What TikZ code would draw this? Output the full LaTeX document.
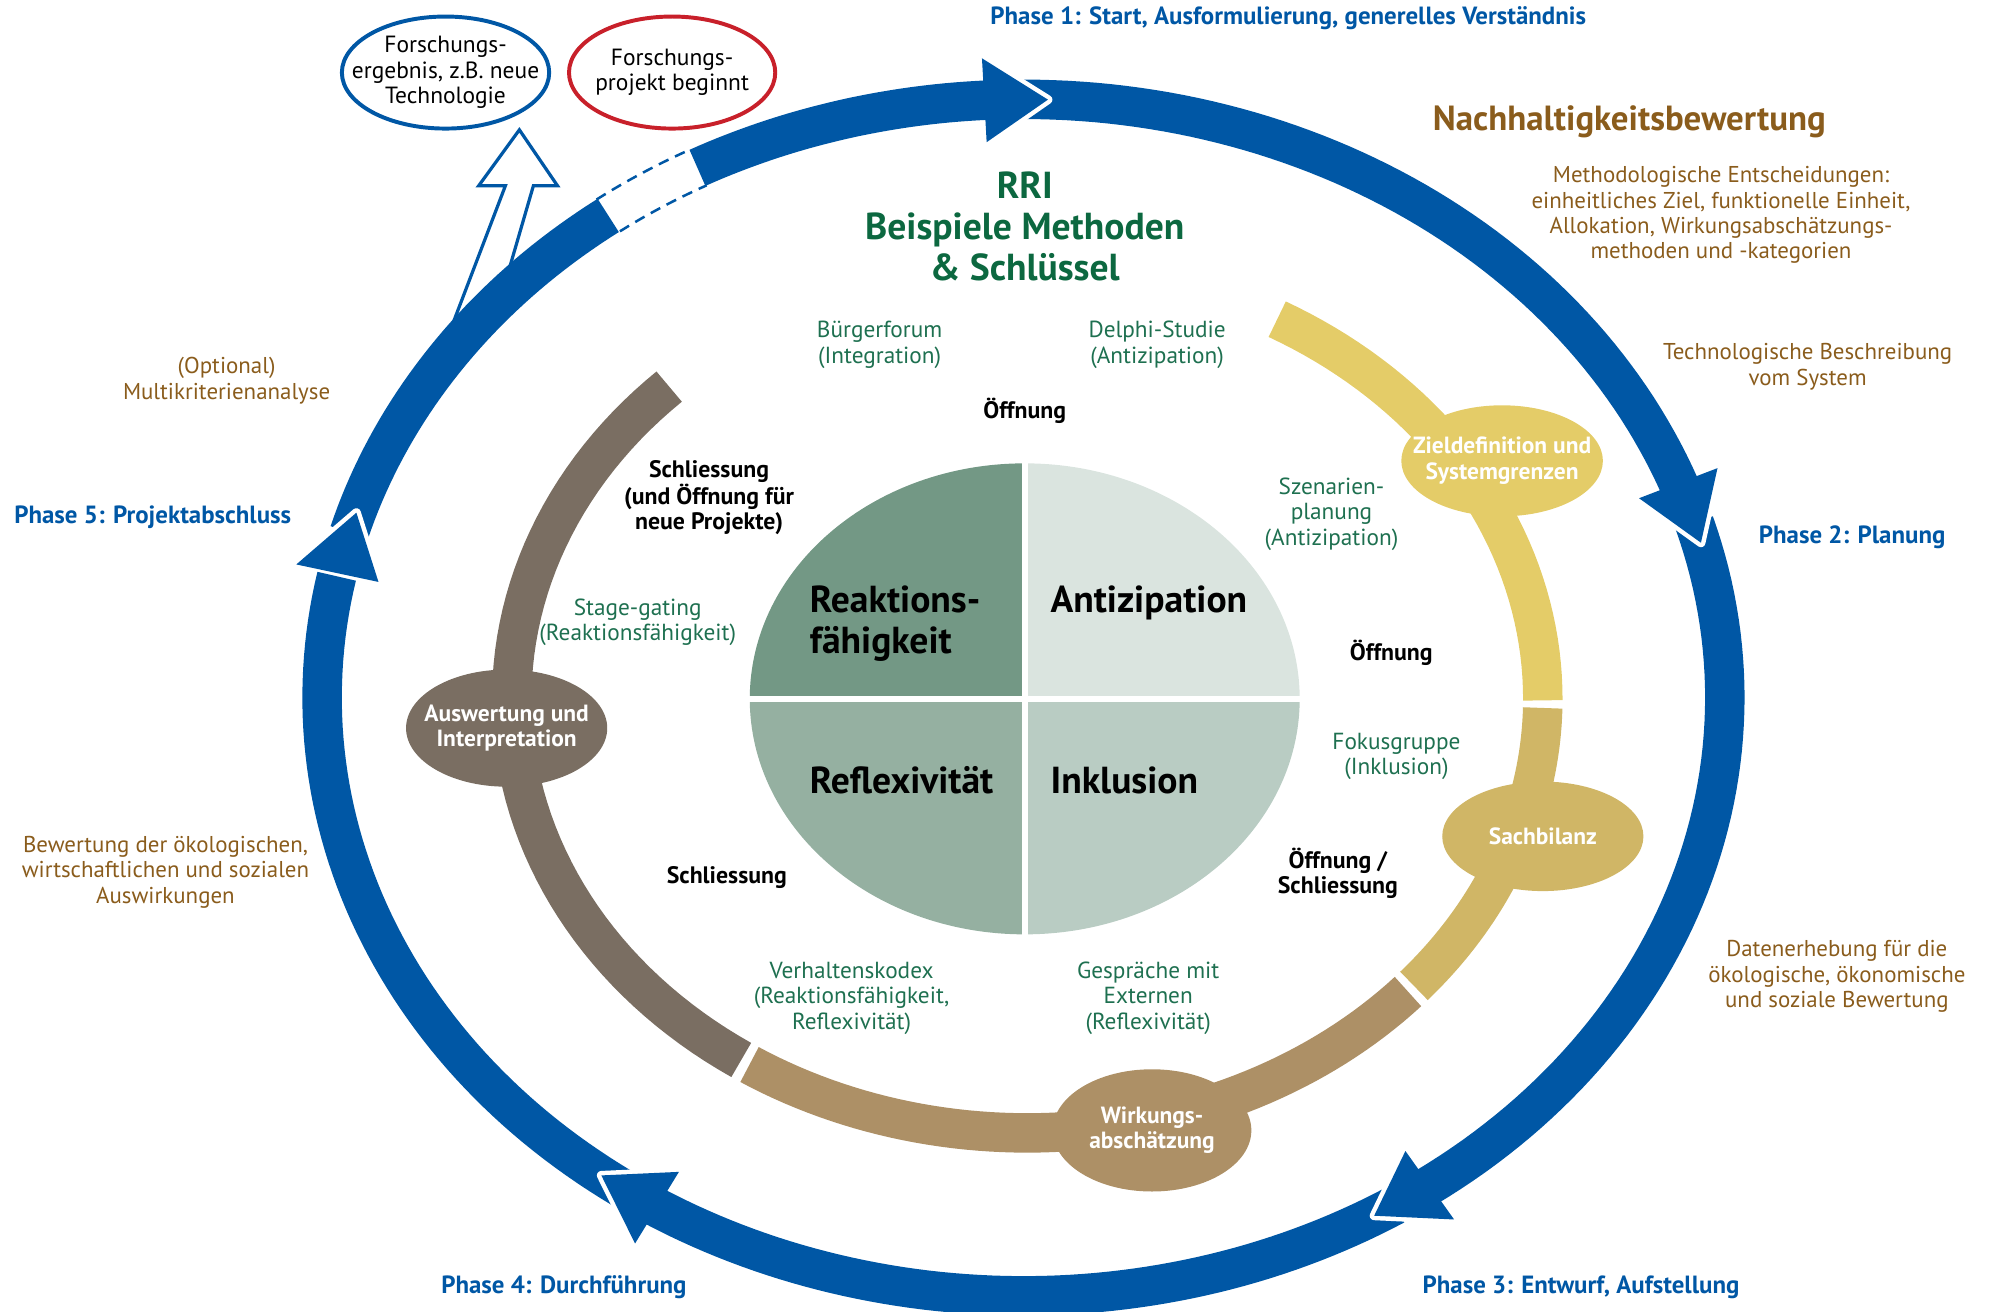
\documentclass[tikz,border=0pt]{standalone}
\usepackage{fontspec}
\setmainfont{PT Sans}
\usetikzlibrary{shapes.geometric}
\definecolor{ringblue}{RGB}{0,87,165}
\definecolor{startred}{RGB}{200,32,42}
\definecolor{ringgray}{RGB}{122,110,98}
\definecolor{ringtan}{RGB}{173,144,102}
\definecolor{ringgold}{RGB}{208,182,102}
\definecolor{ringyellow}{RGB}{228,204,104}
\definecolor{rrigreen}{RGB}{12,104,64}
\definecolor{methgreen}{RGB}{30,112,80}
\definecolor{notebrown}{RGB}{138,92,28}
\definecolor{quadA}{RGB}{115,152,133}
\definecolor{quadB}{RGB}{218,228,223}
\definecolor{quadC}{RGB}{149,176,161}
\definecolor{quadD}{RGB}{185,204,195}
\begin{document}
\begin{tikzpicture}[x=0.025cm,y=-0.025cm]
  \tikzstyle{band}=[line width=0.775cm]
  \tikzstyle{phase}=[font=\bfseries\fontsize{13.9}{16}\selectfont,text=ringblue]
  \tikzstyle{note}=[font=\fontsize{12.8}{14.2}\selectfont,text=notebrown,align=center]
  \tikzstyle{method}=[font=\fontsize{13}{14.2}\selectfont,text=methgreen,align=center]
  \tikzstyle{switch}=[font=\bfseries\fontsize{13.3}{14.2}\selectfont,align=center]
  \tikzstyle{quadrant}=[font=\bfseries\fontsize{21}{22.7}\selectfont,anchor=west,align=left,inner sep=0pt]
  \tikzstyle{stage}=[ellipse,inner xsep=-0.35cm,inner ysep=0pt,text=white,align=center,font=\bfseries\fontsize{13.1}{14.2}\selectfont]
  \tikzstyle{origin}=[ellipse,draw,line width=2.2pt,fill=white,inner xsep=-0.4cm,inner ysep=0pt,minimum width=4.05cm,minimum height=2.2cm,align=center,font=\fontsize{13.1}{14.2}\selectfont]
  \useasboundingbox (0,0) rectangle (1568,1030);

  % result arrow out of the cycle
  \filldraw[fill=white,draw=ringblue,line width=1.8pt] (344,285) -- (397,146) -- (376,146) -- (408,102) -- (438,146) -- (419,146) -- (394,232) -- cycle;

  % outer cycle
  \draw[band,ringblue] plot[domain=164:126.3,samples=40] ({804+551*cos(\x)},{548-470*sin(\x)});
  \draw[band,ringblue] plot[domain=117.7:92.9,samples=30] ({804+551*cos(\x)},{548-470*sin(\x)});
  \draw[band,ringblue] plot[domain=90:20.7,samples=60] ({804+551*cos(\x)},{548-470*sin(\x)});
  \draw[band,ringblue] plot[domain=17:-54.9,samples=60] ({804+551*cos(\x)},{548-470*sin(\x)});
  \draw[band,ringblue] plot[domain=-58:-121.8,samples=60] ({804+551*cos(\x)},{548-470*sin(\x)});
  \draw[band,ringblue] plot[domain=-125:-191.7,samples=60] ({804+551*cos(\x)},{548-470*sin(\x)});
  \foreach \t/\l in {88/5.2,15/6.0,-60/5.4,-127/5.5,162/6.0} {
    \draw[white,line width=5pt,line join=round] ({804+584*cos(\t+\l)},{548-503*sin(\t+\l)}) -- ({804+551*cos(\t)},{548-470*sin(\t)}) -- ({804+518*cos(\t+\l)},{548-437*sin(\t+\l)});
    \fill[ringblue] ({804+584*cos(\t+\l)},{548-503*sin(\t+\l)}) -- ({804+551*cos(\t)},{548-470*sin(\t)}) -- ({804+518*cos(\t+\l)},{548-437*sin(\t+\l)}) -- cycle;
  }
  \draw[ringblue,line width=1.4pt,dash pattern=on 6pt off 4pt] plot[domain=126.3:117.7,samples=12] ({804+566.5*cos(\x)},{548-485.5*sin(\x)});
  \draw[ringblue,line width=1.4pt,dash pattern=on 6pt off 4pt] plot[domain=126.3:117.7,samples=12] ({804+535.5*cos(\x)},{548-454.5*sin(\x)});

  % inner cycle
  \draw[band,ringgray] plot[domain=134:236.3,samples=60] ({807+405*cos(\x)},{549-341*sin(\x)});
  \draw[band,ringtan] plot[domain=237.4:317.6,samples=60] ({807+405*cos(\x)},{549-341*sin(\x)});
  \draw[band,ringgold] plot[domain=318.6:358.8,samples=40] ({807+405*cos(\x)},{549-341*sin(\x)});
  \draw[band,ringyellow] plot[domain=359.8:421,samples=40] ({807+405*cos(\x)},{549-341*sin(\x)});

  \node[stage,fill=ringyellow,minimum width=3.95cm,minimum height=2.18cm] (ziel) at (1180,362) {Zieldefinition und\\Systemgrenzen};
  \node[stage,fill=ringgold,minimum width=3.95cm,minimum height=2.15cm] (sach) at (1212,657) {Sachbilanz};
  \node[stage,fill=ringtan,minimum width=3.9cm,minimum height=2.4cm] (wirk) at (905,888) {Wirkungs-\\abschätzung};
  \node[stage,fill=ringgray,minimum width=3.95cm,minimum height=2.3cm] (ausw) at (398,572) {Auswertung und\\Interpretation};

  % RRI keys
  \fill[quadA] (805,549) -- (589,549) arc[start angle=180,end angle=270,x radius=216,y radius=185] -- cycle;
  \fill[quadB] (805,549) -- (805,364) arc[start angle=270,end angle=360,x radius=216,y radius=185] -- cycle;
  \fill[quadD] (805,549) -- (1021,549) arc[start angle=0,end angle=90,x radius=216,y radius=185] -- cycle;
  \fill[quadC] (805,549) -- (805,734) arc[start angle=90,end angle=180,x radius=216,y radius=185] -- cycle;
  \draw[white,line width=3.5pt] (580,549) -- (1030,549) (805,355) -- (805,745);
  \node[quadrant] (reakt) at (636,490) {Reaktions-\\fähigkeit};
  \node[quadrant] (antiz) at (825,474) {Antizipation};
  \node[quadrant] (reflex) at (636,613) {Reflexivität};
  \node[quadrant] (inkl) at (825,613) {Inklusion};

  \node[font=\bfseries\fontsize{21}{23}\selectfont,text=rrigreen,align=center] (rri) at (805,178) {RRI\\Beispiele Methoden\\\& Schlüssel};

  \node[method] (buerger) at (691,271) {Bürgerforum\\(Integration)};
  \node[method] (delphi) at (909,271) {Delphi-Studie\\(Antizipation)};
  \node[method] (szen) at (1046,404) {Szenarien-\\planung\\(Antizipation)};
  \node[method] (stgate) at (501,489) {Stage-gating\\(Reaktionsfähigkeit)};
  \node[method] (fokus) at (1097,594) {Fokusgruppe\\(Inklusion)};
  \node[method] (kodex) at (669,784) {Verhaltenskodex\\(Reaktionsfähigkeit,\\Reflexivität)};
  \node[method] (gespr) at (902,784) {Gespräche mit\\Externen\\(Reflexivität)};

  \node[switch] (oeffA) at (805,323) {Öffnung};
  \node[switch] (schlA) at (557,391) {Schliessung\\(und Öffnung für\\neue Projekte)};
  \node[switch] (oeffB) at (1093,513) {Öffnung};
  \node[switch] (oeffC) at (1051,686) {Öffnung /\\Schliessung};
  \node[switch] (schlB) at (571,689) {Schliessung};

  % sustainability assessment
  \node[font=\bfseries\fontsize{19.5}{22}\selectfont,text=notebrown] (nhb) at (1280,96) {Nachhaltigkeitsbewertung};
  \node[note] (entsch) at (1352,169) {Methodologische Entscheidungen:\\einheitliches Ziel, funktionelle Einheit,\\Allokation, Wirkungsabschätzungs-\\methoden und -kategorien};
  \node[note] (techn) at (1420,288) {Technologische Beschreibung\\vom System};
  \node[note] (daten) at (1443,767) {Datenerhebung für die\\ökologische, ökonomische\\und soziale Bewertung};
  \node[note] (bewert) at (130,685) {Bewertung der ökologischen,\\wirtschaftlichen und sozialen\\Auswirkungen};
  \node[note] (multi) at (178,299) {(Optional)\\Multikriterienanalyse};

  \node[phase] (ph1) at (1012,14) {Phase 1: Start, Ausformulierung, generelles Verständnis};
  \node[phase] (ph2) at (1455,422) {Phase 2: Planung};
  \node[phase] (ph3) at (1242,1011) {Phase 3: Entwurf, Aufstellung};
  \node[phase] (ph4) at (443,1011) {Phase 4: Durchführung};
  \node[phase] (ph5) at (120,406) {Phase 5: Projektabschluss};

  \node[origin,draw=ringblue] (ergebnis) at (350,57) {Forschungs-\\ergebnis, z.B. neue\\Technologie};
  \node[origin,draw=startred] (beginn) at (528,57) {Forschungs-\\projekt beginnt};
\end{tikzpicture}
\end{document}
